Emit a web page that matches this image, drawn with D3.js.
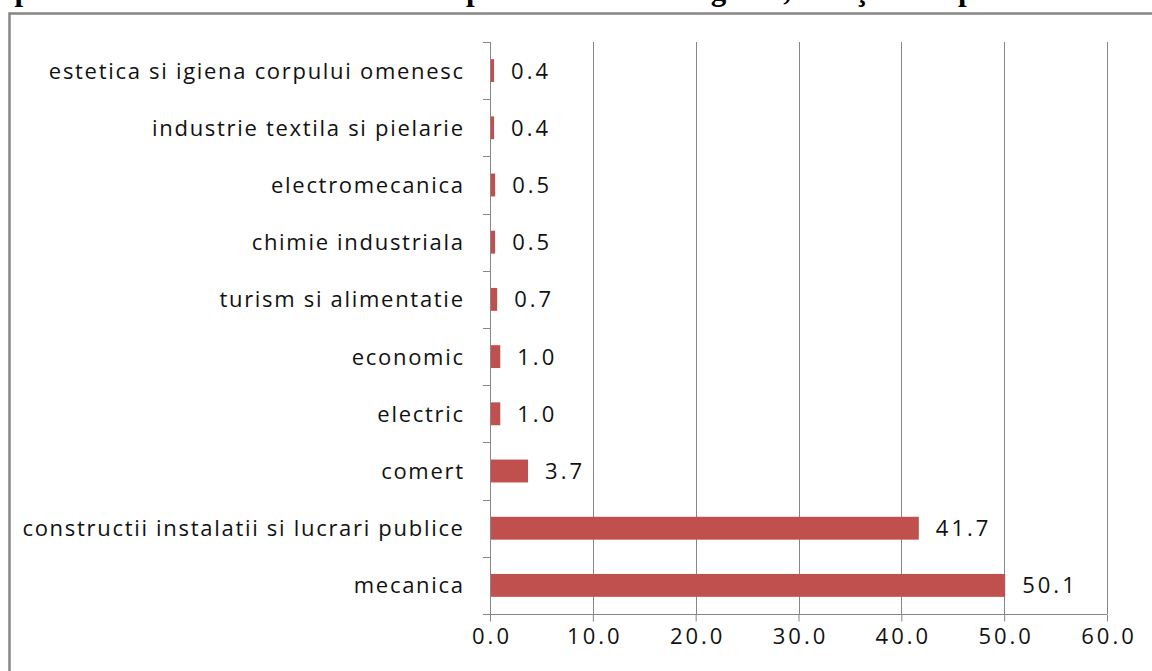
<!DOCTYPE html>
<html>
<head>
<meta charset="utf-8">
<script src="https://cdn.jsdelivr.net/npm/d3@7"></script>
<style>
  html, body { margin: 0; padding: 0; background: #fff; }
  svg { display: block; }
</style>
</head>
<body>
<svg id="chart" width="1152" height="671"></svg>
<script>
// Domains of qualification, listed bottom to top as drawn
const categories = [
  "mecanica",
  "constructii instalatii si lucrari publice",
  "comert",
  "electric",
  "economic",
  "turism si alimentatie",
  "chimie industriala",
  "electromecanica",
  "industrie textila si pielarie",
  "estetica si igiena corpului omenesc"
];
const values = [50.1, 41.7, 3.7, 1.0, 1.0, 0.7, 0.5, 0.5, 0.4, 0.4];
const xTicks = [0, 10, 20, 30, 40, 50, 60];
const titleText = "după domeniul de calificare solicitat pentru liceu din regiune, învăţământ profesional";

const svg = d3.select("#chart");
const W = 1152, H = 671;
const plot = { left: 490, right: 1107, top: 42, bottom: 614 };
const labelFont = "'Open Sans', sans-serif";
const axisGray = "#878787";
const barColor = "#C0504D";
const catSpacing = 1.7;
const numSpacing = 3;

// Title line, sitting above the top edge of the page
svg.append("text")
  .attr("x", -20)
  .attr("y", 0)
  .attr("font-family", "'Liberation Serif', serif")
  .attr("font-weight", "bold")
  .attr("font-size", 31)
  .attr("fill", "#000")
  .text(titleText);

// Outer chart frame (left and top edges)
svg.append("path")
  .attr("d", `M9.5,${H} V13.5 H${W}`)
  .attr("fill", "none")
  .attr("stroke", axisGray)
  .attr("stroke-width", 2.5);

const x = d3.scaleLinear().domain([0, 60]).range([plot.left, plot.right]);
const y = d3.scaleBand()
  .domain(categories.slice().reverse())
  .range([plot.top, plot.bottom])
  .paddingInner(0.6)
  .paddingOuter(0.3);

// Vertical gridlines
svg.append("g")
  .selectAll("line")
  .data(xTicks.slice(1))
  .join("line")
  .attr("x1", d => Math.round(x(d)) + 0.5)
  .attr("x2", d => Math.round(x(d)) + 0.5)
  .attr("y1", plot.top)
  .attr("y2", plot.bottom)
  .attr("stroke", axisGray)
  .attr("stroke-width", 1);

// Bars
svg.append("g")
  .selectAll("rect")
  .data(categories)
  .join("rect")
  .attr("x", x(0))
  .attr("y", (d) => y(d))
  .attr("width", (d, i) => x(values[i]) - x(0))
  .attr("height", y.bandwidth())
  .attr("fill", barColor);

// Value labels
svg.append("g")
  .selectAll("text")
  .data(categories)
  .join("text")
  .attr("x", (d, i) => x(values[i]) + 17)
  .attr("y", d => y(d) + y.bandwidth() / 2)
  .attr("dy", "0.36em")
  .attr("font-family", labelFont)
  .attr("font-size", 22)
  .attr("letter-spacing", numSpacing)
  .attr("fill", "#111")
  .text((d, i) => values[i].toFixed(1));

// Bottom axis
const xAxis = d3.axisBottom(x)
  .tickValues(xTicks)
  .tickFormat(d3.format(".1f"))
  .tickSize(7)
  .tickPadding(7);
const gx = svg.append("g")
  .attr("transform", `translate(0,${plot.bottom + 0.5})`)
  .call(xAxis);
gx.select(".domain").attr("stroke", axisGray).attr("d", `M${plot.left},0H${plot.right}`);
gx.selectAll(".tick line").attr("stroke", axisGray);
gx.selectAll(".tick text")
  .attr("font-family", labelFont)
  .attr("font-size", 22)
  .attr("letter-spacing", numSpacing)
  .attr("dx", numSpacing / 2)
  .attr("fill", "#111");

// Left axis with ticks at band boundaries
const boundaries = d3.range(categories.length + 1).map(i => plot.top + i * (plot.bottom - plot.top) / categories.length);
const gy = svg.append("g");
gy.append("line")
  .attr("x1", plot.left + 0.5).attr("x2", plot.left + 0.5)
  .attr("y1", plot.top).attr("y2", plot.bottom + 7)
  .attr("stroke", axisGray);
gy.selectAll("line.tk")
  .data(boundaries)
  .join("line")
  .attr("class", "tk")
  .attr("x1", plot.left - 7).attr("x2", plot.left)
  .attr("y1", d => Math.round(d) + 0.5).attr("y2", d => Math.round(d) + 0.5)
  .attr("stroke", axisGray);

// Category labels
gy.selectAll("text")
  .data(categories)
  .join("text")
  .attr("x", 463 + catSpacing)
  .attr("y", d => y(d) + y.bandwidth() / 2)
  .attr("dy", "0.36em")
  .attr("text-anchor", "end")
  .attr("font-family", labelFont)
  .attr("font-size", 22)
  .attr("letter-spacing", catSpacing)
  .attr("fill", "#111")
  .text(d => d);
</script>
</body>
</html>
